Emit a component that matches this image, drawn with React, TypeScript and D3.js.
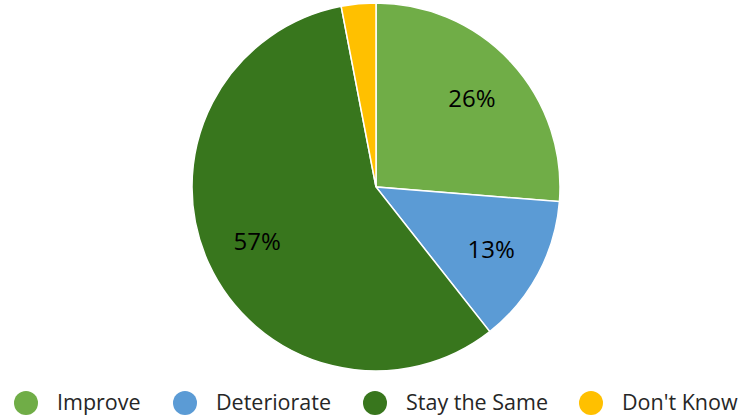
import React from "react";
import * as d3 from "d3";

const categories = ["Improve", "Deteriorate", "Stay the Same", "Don't Know"];
const values = [26, 13, 57, 3];
const labels = ["26%", "13%", "57%", ""];
const colors = ["#70AD47", "#5B9BD5", "#38761D", "#FFC000"];
const legendX = [26, 185, 375, 591];

export default function App() {
  const W = 753, H = 420;
  const cx = 376, cy = 187, R = 184;
  const pie = d3.pie<number>().sort(null).value((d) => d);
  const arcs = pie(values);
  const arc = d3.arc<d3.PieArcDatum<number>>().innerRadius(0).outerRadius(R);
  const labelArc = d3.arc<d3.PieArcDatum<number>>().innerRadius(R * 0.71).outerRadius(R * 0.71);
  const font = "'Open Sans', sans-serif";
  return (
    <svg width={W} height={H} style={{ position: "absolute", left: 0, top: 0 }}>
      <rect width={W} height={H} fill="#fff" />
      <g transform={`translate(${cx},${cy})`}>
        {arcs.map((a, i) => (
          <path key={i} d={arc(a) || ""} fill={colors[i]} stroke="#fff" strokeWidth={1.5} />
        ))}
        {arcs.map((a, i) => {
          const [x, y] = labelArc.centroid(a);
          return labels[i] ? (
            <text key={i} x={x} y={y + 9} textAnchor="middle" fontFamily={font} fontSize={24} fill="#000">
              {labels[i]}
            </text>
          ) : null;
        })}
      </g>
      {categories.map((c, i) => (
        <g key={c}>
          <ellipse cx={legendX[i]} cy={403} rx={12} ry={12} fill={colors[i]} />
          <text x={legendX[i] + 31} y={410} fontFamily={font} fontSize={21.5} fill="#262626">
            {c}
          </text>
        </g>
      ))}
    </svg>
  );
}
